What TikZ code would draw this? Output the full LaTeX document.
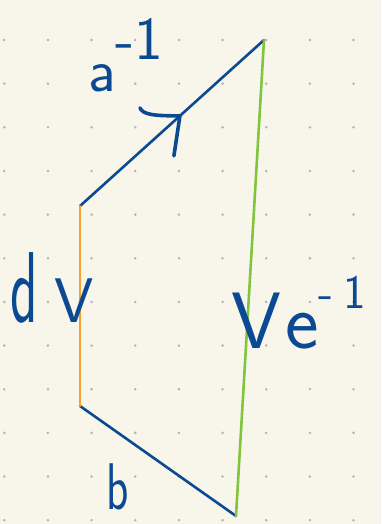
\documentclass[tikz,border=0pt]{standalone}
\usepackage{tikz}
\usepackage{xcolor}
\usetikzlibrary{calc}

\definecolor{paper}{HTML}{F8F6EB}
\definecolor{dotgray}{HTML}{B6B4AC}
\definecolor{penblue}{HTML}{0B4A93}
\definecolor{lime}{HTML}{82C43E}
\definecolor{penorange}{HTML}{F5A130}

\begin{document}
\begin{tikzpicture}[x=1pt,y=-1pt,
  edge/.style={line width=2.6pt, line cap=round},
  hand/.style={inner sep=0pt, anchor=base west, text=penblue, font=\sffamily}]

%%%%%%%%%%%%%%%%%%%%%%%%%%%% paper %%%%%%%%%%%%%%%%%%%%
\fill[paper] (0,0) rectangle (381,524);
\foreach \i in {0,...,8} \foreach \j in {0,...,11}
  \fill[dotgray] (4.3+43.65*\i,40+43.65*\j) circle (1.4pt);

%%%%%%%%%%%%%%%%%%%%%%%%%%%% corners %%%%%%%%%%%%%%%%%%%%
\coordinate (top) at (264,40);
\coordinate (ul) at (80,206);
\coordinate (ll) at (80,406);
\coordinate (bot) at (236,516);

{\color{penblue}
\draw[edge] (ul) -- (top);
\draw[edge] (ll) -- (bot);}
\draw[edge, lime] (top) -- (bot);
\draw[edge, penorange] (ll) -- (ul);

% arrow on the upper edge
\coordinate (tip) at ($(ul)!0.543!(top)$);
\draw[penblue, line width=3.6pt, line cap=round, line join=round]
  ($(tip)+(-40,-8)$) .. controls ($(tip)+(-37,-1)$) and ($(tip)+(-25,0)$) .. (tip) -- ($(tip)+(-6,40)$);

%%%%%%%%%%%%%%%%%%%%%%%%%%%% labels %%%%%%%%%%%%%%%%%%%%
\node[hand, font=\sffamily\fontsize{61}{61}\selectfont] (ainv) at (88,92)
  {a\raisebox{32pt}{-1}};
\node[hand, font=\sffamily\fontsize{63}{63}\selectfont] (dv) at (10,322)
  {\scalebox{0.9}[1.6]{d}\hspace{17pt}V};
\node[hand, font=\sffamily\fontsize{80}{80}\selectfont] (vinv) at (231,348)
  {V\hspace{4pt}e\raisebox{40pt}{\fontsize{48}{48}\selectfont -\hspace{10pt}1}};
\node[hand, font=\sffamily\fontsize{66}{66}\selectfont] (b) at (106,509)
  {\scalebox{0.7}[1]{b}};

\end{tikzpicture}
\end{document}
